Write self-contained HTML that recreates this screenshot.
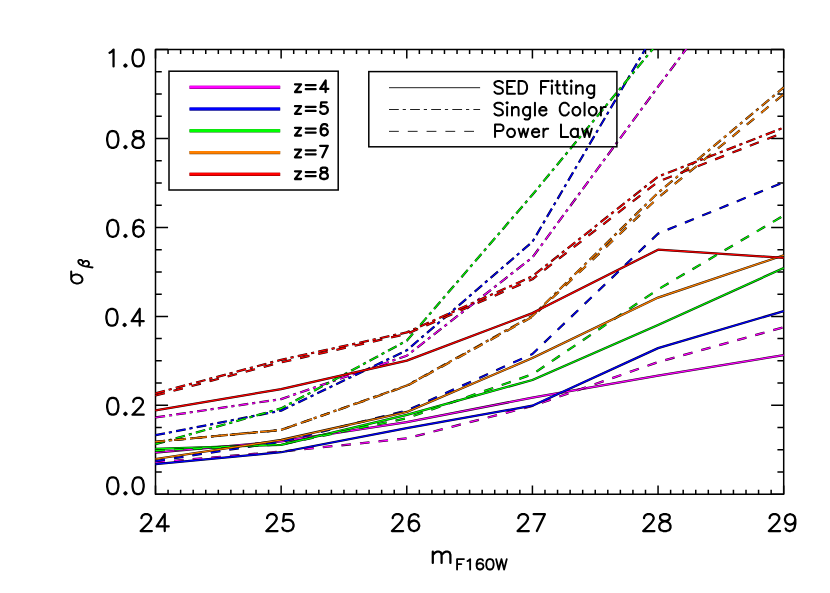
<!DOCTYPE html>
<html><head><meta charset="utf-8"><title>plot</title>
<style>html,body{margin:0;padding:0;background:#fff;font-family:"Liberation Sans",sans-serif}svg{display:block}</style></head>
<body>
<svg width="830" height="593" viewBox="0 0 830 593">
<rect width="830" height="593" fill="#fff"/>
<defs><clipPath id="pc"><rect x="154.90" y="48.90" width="629.40" height="446.00"/></clipPath></defs>
<g stroke="#000" stroke-width="1.50" fill="none" stroke-linejoin="round">
<rect x="155.50" y="49.50" width="628.20" height="444.80"/>
</g>
<path d="M155.50 494.30v-8.90M155.50 49.50v8.90M168.06 494.30v-4.45M168.06 49.50v4.45M180.63 494.30v-4.45M180.63 49.50v4.45M193.19 494.30v-4.45M193.19 49.50v4.45M205.76 494.30v-4.45M205.76 49.50v4.45M218.32 494.30v-4.45M218.32 49.50v4.45M230.88 494.30v-4.45M230.88 49.50v4.45M243.45 494.30v-4.45M243.45 49.50v4.45M256.01 494.30v-4.45M256.01 49.50v4.45M268.58 494.30v-4.45M268.58 49.50v4.45M281.14 494.30v-8.90M281.14 49.50v8.90M293.70 494.30v-4.45M293.70 49.50v4.45M306.27 494.30v-4.45M306.27 49.50v4.45M318.83 494.30v-4.45M318.83 49.50v4.45M331.40 494.30v-4.45M331.40 49.50v4.45M343.96 494.30v-4.45M343.96 49.50v4.45M356.52 494.30v-4.45M356.52 49.50v4.45M369.09 494.30v-4.45M369.09 49.50v4.45M381.65 494.30v-4.45M381.65 49.50v4.45M394.22 494.30v-4.45M394.22 49.50v4.45M406.78 494.30v-8.90M406.78 49.50v8.90M419.34 494.30v-4.45M419.34 49.50v4.45M431.91 494.30v-4.45M431.91 49.50v4.45M444.47 494.30v-4.45M444.47 49.50v4.45M457.04 494.30v-4.45M457.04 49.50v4.45M469.60 494.30v-4.45M469.60 49.50v4.45M482.16 494.30v-4.45M482.16 49.50v4.45M494.73 494.30v-4.45M494.73 49.50v4.45M507.29 494.30v-4.45M507.29 49.50v4.45M519.86 494.30v-4.45M519.86 49.50v4.45M532.42 494.30v-8.90M532.42 49.50v8.90M544.98 494.30v-4.45M544.98 49.50v4.45M557.55 494.30v-4.45M557.55 49.50v4.45M570.11 494.30v-4.45M570.11 49.50v4.45M582.68 494.30v-4.45M582.68 49.50v4.45M595.24 494.30v-4.45M595.24 49.50v4.45M607.80 494.30v-4.45M607.80 49.50v4.45M620.37 494.30v-4.45M620.37 49.50v4.45M632.93 494.30v-4.45M632.93 49.50v4.45M645.50 494.30v-4.45M645.50 49.50v4.45M658.06 494.30v-8.90M658.06 49.50v8.90M670.62 494.30v-4.45M670.62 49.50v4.45M683.19 494.30v-4.45M683.19 49.50v4.45M695.75 494.30v-4.45M695.75 49.50v4.45M708.32 494.30v-4.45M708.32 49.50v4.45M720.88 494.30v-4.45M720.88 49.50v4.45M733.44 494.30v-4.45M733.44 49.50v4.45M746.01 494.30v-4.45M746.01 49.50v4.45M758.57 494.30v-4.45M758.57 49.50v4.45M771.14 494.30v-4.45M771.14 49.50v4.45M783.70 494.30v-8.90M783.70 49.50v8.90M155.50 494.30h12.56M783.70 494.30h-12.56M155.50 472.06h6.28M783.70 472.06h-6.28M155.50 449.82h6.28M783.70 449.82h-6.28M155.50 427.58h6.28M783.70 427.58h-6.28M155.50 405.34h12.56M783.70 405.34h-12.56M155.50 383.10h6.28M783.70 383.10h-6.28M155.50 360.86h6.28M783.70 360.86h-6.28M155.50 338.62h6.28M783.70 338.62h-6.28M155.50 316.38h12.56M783.70 316.38h-12.56M155.50 294.14h6.28M783.70 294.14h-6.28M155.50 271.90h6.28M783.70 271.90h-6.28M155.50 249.66h6.28M783.70 249.66h-6.28M155.50 227.42h12.56M783.70 227.42h-12.56M155.50 205.18h6.28M783.70 205.18h-6.28M155.50 182.94h6.28M783.70 182.94h-6.28M155.50 160.70h6.28M783.70 160.70h-6.28M155.50 138.46h12.56M783.70 138.46h-12.56M155.50 116.22h6.28M783.70 116.22h-6.28M155.50 93.98h6.28M783.70 93.98h-6.28M155.50 71.74h6.28M783.70 71.74h-6.28M155.50 49.50h12.56M783.70 49.50h-12.56" stroke="#000" stroke-width="1.50" fill="none"/>
<g clip-path="url(#pc)" fill="none" stroke-linejoin="round">
<polyline points="155.50,452.51 281.14,441.30 406.78,422.06 532.42,397.65 658.06,375.56 783.70,355.20" stroke="#200020" stroke-width="2.25"/>
<polyline points="155.50,452.51 281.14,441.30 406.78,422.06 532.42,397.65 658.06,375.56 783.70,355.20" stroke="#ff00ff" stroke-width="1.20"/>
<polyline points="155.50,417.48 281.14,399.08 406.78,355.69 532.42,257.41 658.06,86.68 783.70,-81.43" stroke="#200020" stroke-width="2.25" stroke-dasharray="9.65 3.98 3.1 4.28"/>
<polyline points="155.50,417.48 281.14,399.08 406.78,355.69 532.42,257.41 658.06,86.68 783.70,-81.43" stroke="#ff00ff" stroke-width="1.20" stroke-dasharray="9.65 3.98 3.1 4.28"/>
<polyline points="155.50,462.37 281.14,451.57 406.78,438.42 532.42,405.97 658.06,362.09 783.70,327.29" stroke="#200020" stroke-width="2.25" stroke-dasharray="9.55 9.12"/>
<polyline points="155.50,462.37 281.14,451.57 406.78,438.42 532.42,405.97 658.06,362.09 783.70,327.29" stroke="#ff00ff" stroke-width="1.20" stroke-dasharray="9.55 9.12"/>
<polyline points="155.50,464.06 281.14,452.24 406.78,428.19 532.42,405.66 658.06,348.14 783.70,311.11" stroke="#000020" stroke-width="2.25"/>
<polyline points="155.50,464.06 281.14,452.24 406.78,428.19 532.42,405.66 658.06,348.14 783.70,311.11" stroke="#0000ff" stroke-width="1.20"/>
<polyline points="155.50,435.21 281.14,410.63 406.78,350.32 532.42,241.81 658.06,27.21 783.70,-185.00" stroke="#000020" stroke-width="2.25" stroke-dasharray="9.65 3.98 3.1 4.28"/>
<polyline points="155.50,435.21 281.14,410.63 406.78,350.32 532.42,241.81 658.06,27.21 783.70,-185.00" stroke="#0000ff" stroke-width="1.20" stroke-dasharray="9.65 3.98 3.1 4.28"/>
<polyline points="155.50,461.08 281.14,441.75 406.78,410.63 532.42,353.96 658.06,233.59 783.70,182.29" stroke="#000020" stroke-width="2.25" stroke-dasharray="9.55 9.12"/>
<polyline points="155.50,461.08 281.14,441.75 406.78,410.63 532.42,353.96 658.06,233.59 783.70,182.29" stroke="#0000ff" stroke-width="1.20" stroke-dasharray="9.55 9.12"/>
<polyline points="155.50,448.86 281.14,444.86 406.78,414.81 532.42,379.96 658.06,325.02 783.70,267.95" stroke="#002000" stroke-width="2.25"/>
<polyline points="155.50,448.86 281.14,444.86 406.78,414.81 532.42,379.96 658.06,325.02 783.70,267.95" stroke="#00ff00" stroke-width="1.20"/>
<polyline points="155.50,444.19 281.14,408.41 406.78,340.71 532.42,194.70 658.06,42.72 783.70,-114.32" stroke="#002000" stroke-width="2.25" stroke-dasharray="9.65 3.98 3.1 4.28"/>
<polyline points="155.50,444.19 281.14,408.41 406.78,340.71 532.42,194.70 658.06,42.72 783.70,-114.32" stroke="#00ff00" stroke-width="1.20" stroke-dasharray="9.65 3.98 3.1 4.28"/>
<polyline points="155.50,450.64 281.14,444.42 406.78,418.19 532.42,374.27 658.06,289.42 783.70,215.59" stroke="#002000" stroke-width="2.25" stroke-dasharray="9.55 9.12"/>
<polyline points="155.50,450.64 281.14,444.42 406.78,418.19 532.42,374.27 658.06,289.42 783.70,215.59" stroke="#00ff00" stroke-width="1.20" stroke-dasharray="9.55 9.12"/>
<polyline points="155.50,459.00 281.14,439.97 406.78,411.97 532.42,358.01 658.06,297.60 783.70,255.28" stroke="#201000" stroke-width="2.25"/>
<polyline points="155.50,459.00 281.14,439.97 406.78,411.97 532.42,358.01 658.06,297.60 783.70,255.28" stroke="#ff8000" stroke-width="1.20"/>
<polyline points="155.50,441.75 281.14,429.93 406.78,385.52 532.42,315.96 658.06,192.70 783.70,87.48" stroke="#201000" stroke-width="2.25" stroke-dasharray="9.65 3.98 3.1 4.28"/>
<polyline points="155.50,441.75 281.14,429.93 406.78,385.52 532.42,315.96 658.06,192.70 783.70,87.48" stroke="#ff8000" stroke-width="1.20" stroke-dasharray="9.65 3.98 3.1 4.28"/>
<polyline points="155.50,441.75 281.14,429.93 406.78,385.96 532.42,316.84 658.06,197.72 783.70,94.24" stroke="#201000" stroke-width="2.25" stroke-dasharray="9.55 9.12"/>
<polyline points="155.50,441.75 281.14,429.93 406.78,385.96 532.42,316.84 658.06,197.72 783.70,94.24" stroke="#ff8000" stroke-width="1.20" stroke-dasharray="9.55 9.12"/>
<polyline points="155.50,410.41 281.14,389.08 406.78,360.58 532.42,313.11 658.06,249.68 783.70,257.81" stroke="#200000" stroke-width="2.25"/>
<polyline points="155.50,410.41 281.14,389.08 406.78,360.58 532.42,313.11 658.06,249.68 783.70,257.81" stroke="#ff0000" stroke-width="1.20"/>
<polyline points="155.50,393.30 281.14,359.78 406.78,332.40 532.42,276.31 658.06,176.60 783.70,127.67" stroke="#200000" stroke-width="2.25" stroke-dasharray="9.65 3.98 3.1 4.28"/>
<polyline points="155.50,393.30 281.14,359.78 406.78,332.40 532.42,276.31 658.06,176.60 783.70,127.67" stroke="#ff0000" stroke-width="1.20" stroke-dasharray="9.65 3.98 3.1 4.28"/>
<polyline points="155.50,395.52 281.14,362.32 406.78,333.91 532.42,279.24 658.06,181.72 783.70,132.51" stroke="#200000" stroke-width="2.25" stroke-dasharray="9.55 9.12"/>
<polyline points="155.50,395.52 281.14,362.32 406.78,333.91 532.42,279.24 658.06,181.72 783.70,132.51" stroke="#ff0000" stroke-width="1.20" stroke-dasharray="9.55 9.12"/>
</g>
<path d="M141.47 518.20L141.47 517.40L142.27 515.80L143.07 515.00L144.67 514.20L147.87 514.20L149.47 515.00L150.27 515.80L151.07 517.40L151.07 519.00L150.27 520.60L148.67 523.00L140.67 531.00L151.87 531.00M164.73 514.20L156.73 526.44L168.73 526.44M164.73 514.20L164.73 531.00M267.11 518.20L267.11 517.40L267.91 515.80L268.71 515.00L270.31 514.20L273.51 514.20L275.11 515.00L275.91 515.80L276.71 517.40L276.71 519.00L275.91 520.60L274.31 523.00L266.31 531.00L277.51 531.00M291.97 514.20L283.97 514.20L283.17 521.40L283.97 520.60L286.37 519.80L288.77 519.80L291.17 520.60L292.77 522.20L293.57 524.60L293.57 526.20L292.77 528.60L291.17 530.20L288.77 531.00L286.37 531.00L283.97 530.20L283.17 529.40L282.37 527.80M392.75 518.20L392.75 517.40L393.55 515.80L394.35 515.00L395.95 514.20L399.15 514.20L400.75 515.00L401.55 515.80L402.35 517.40L402.35 519.00L401.55 520.60L399.95 523.00L391.95 531.00L403.15 531.00M418.41 516.60L417.61 515.00L415.21 514.20L413.61 514.20L411.21 515.00L409.61 517.40L408.81 521.40L408.81 525.40L409.61 528.60L411.21 530.20L413.61 531.00L414.41 531.00L416.81 530.20L418.41 528.60L419.21 526.20L419.21 525.40L418.41 523.00L416.81 521.40L414.41 520.60L413.61 520.60L411.21 521.40L409.61 523.00L408.81 525.40M518.39 518.20L518.39 517.40L519.19 515.80L519.99 515.00L521.59 514.20L524.79 514.20L526.39 515.00L527.19 515.80L527.99 517.40L527.99 519.00L527.19 520.60L525.59 523.00L517.59 531.00L528.79 531.00M544.85 514.20L536.85 531.00M533.65 514.20L544.85 514.20M644.03 518.20L644.03 517.40L644.83 515.80L645.63 515.00L647.23 514.20L650.43 514.20L652.03 515.00L652.83 515.80L653.63 517.40L653.63 519.00L652.83 520.60L651.23 523.00L643.23 531.00L654.43 531.00M663.29 514.20L660.89 515.00L660.09 516.60L660.09 518.20L660.89 519.80L662.49 520.60L665.69 521.40L668.09 522.20L669.69 523.80L670.49 525.40L670.49 527.80L669.69 529.40L668.89 530.20L666.49 531.00L663.29 531.00L660.89 530.20L660.09 529.40L659.29 527.80L659.29 525.40L660.09 523.80L661.69 522.20L664.09 521.40L667.29 520.60L668.89 519.80L669.69 518.20L669.69 516.60L668.89 515.00L666.49 514.20L663.29 514.20M769.67 518.20L769.67 517.40L770.47 515.80L771.27 515.00L772.87 514.20L776.07 514.20L777.67 515.00L778.47 515.80L779.27 517.40L779.27 519.00L778.47 520.60L776.87 523.00L768.87 531.00L780.07 531.00M795.33 519.80L794.53 522.20L792.93 523.80L790.53 524.60L789.73 524.60L787.33 523.80L785.73 522.20L784.93 519.80L784.93 519.00L785.73 516.60L787.33 515.00L789.73 514.20L790.53 514.20L792.93 515.00L794.53 516.60L795.33 519.80L795.33 523.80L794.53 527.80L792.93 530.20L790.53 531.00L788.93 531.00L786.53 530.20L785.73 528.60M111.95 477.30L109.55 478.10L107.95 480.50L107.15 484.50L107.15 486.90L107.95 490.90L109.55 493.30L111.95 494.10L113.55 494.10L115.95 493.30L117.55 490.90L118.35 486.90L118.35 484.50L117.55 480.50L115.95 478.10L113.55 477.30L111.95 477.30M125.42 492.22L124.34 493.30L125.42 494.38L126.50 493.30L125.42 492.22M137.30 477.30L134.90 478.10L133.30 480.50L132.50 484.50L132.50 486.90L133.30 490.90L134.90 493.30L137.30 494.10L138.90 494.10L141.30 493.30L142.90 490.90L143.70 486.90L143.70 484.50L142.90 480.50L141.30 478.10L138.90 477.30L137.30 477.30M111.95 397.89L109.55 398.69L107.95 401.09L107.15 405.09L107.15 407.49L107.95 411.49L109.55 413.89L111.95 414.69L113.55 414.69L115.95 413.89L117.55 411.49L118.35 407.49L118.35 405.09L117.55 401.09L115.95 398.69L113.55 397.89L111.95 397.89M125.42 412.81L124.34 413.89L125.42 414.97L126.50 413.89L125.42 412.81M133.30 401.89L133.30 401.09L134.10 399.49L134.90 398.69L136.50 397.89L139.70 397.89L141.30 398.69L142.10 399.49L142.90 401.09L142.90 402.69L142.10 404.29L140.50 406.69L132.50 414.69L143.70 414.69M111.15 308.93L108.75 309.73L107.15 312.13L106.35 316.13L106.35 318.53L107.15 322.53L108.75 324.93L111.15 325.73L112.75 325.73L115.15 324.93L116.75 322.53L117.55 318.53L117.55 316.13L116.75 312.13L115.15 309.73L112.75 308.93L111.15 308.93M124.62 323.85L123.54 324.93L124.62 326.01L125.70 324.93L124.62 323.85M139.70 308.93L131.70 321.17L143.70 321.17M139.70 308.93L139.70 325.73M111.95 219.97L109.55 220.77L107.95 223.17L107.15 227.17L107.15 229.57L107.95 233.57L109.55 235.97L111.95 236.77L113.55 236.77L115.95 235.97L117.55 233.57L118.35 229.57L118.35 227.17L117.55 223.17L115.95 220.77L113.55 219.97L111.95 219.97M125.42 234.89L124.34 235.97L125.42 237.05L126.50 235.97L125.42 234.89M142.90 222.37L142.10 220.77L139.70 219.97L138.10 219.97L135.70 220.77L134.10 223.17L133.30 227.17L133.30 231.17L134.10 234.37L135.70 235.97L138.10 236.77L138.90 236.77L141.30 235.97L142.90 234.37L143.70 231.97L143.70 231.17L142.90 228.77L141.30 227.17L138.90 226.37L138.10 226.37L135.70 227.17L134.10 228.77L133.30 231.17M111.95 131.01L109.55 131.81L107.95 134.21L107.15 138.21L107.15 140.61L107.95 144.61L109.55 147.01L111.95 147.81L113.55 147.81L115.95 147.01L117.55 144.61L118.35 140.61L118.35 138.21L117.55 134.21L115.95 131.81L113.55 131.01L111.95 131.01M125.42 145.93L124.34 147.01L125.42 148.09L126.50 147.01L125.42 145.93M136.50 131.01L134.10 131.81L133.30 133.41L133.30 135.01L134.10 136.61L135.70 137.41L138.90 138.21L141.30 139.01L142.90 140.61L143.70 142.21L143.70 144.61L142.90 146.21L142.10 147.01L139.70 147.81L136.50 147.81L134.10 147.01L133.30 146.21L132.50 144.61L132.50 142.21L133.30 140.61L134.90 139.01L137.30 138.21L140.50 137.41L142.10 136.61L142.90 135.01L142.90 133.41L142.10 131.81L139.70 131.01L136.50 131.01M109.55 52.80L111.15 52.00L113.55 49.60L113.55 66.40M125.42 64.52L124.34 65.60L125.42 66.68L126.50 65.60L125.42 64.52M137.30 49.60L134.90 50.40L133.30 52.80L132.50 56.80L132.50 59.20L133.30 63.20L134.90 65.60L137.30 66.40L138.90 66.40L141.30 65.60L142.90 63.20L143.70 59.20L143.70 56.80L142.90 52.80L141.30 50.40L138.90 49.60L137.30 49.60M432.80 551.70L432.80 562.90M432.80 554.90L435.20 552.50L436.80 551.70L439.20 551.70L440.80 552.50L441.60 554.90L441.60 562.90M441.60 554.90L444.00 552.50L445.60 551.70L448.00 551.70L449.60 552.50L450.40 554.90L450.40 562.90" stroke="#000" stroke-width="2.25" fill="none" stroke-linecap="round" stroke-linejoin="round"/>
<path d="M457.07 559.11L457.07 569.50M457.07 559.11L463.96 559.11M457.07 564.05L461.31 564.05M467.49 561.09L468.55 560.59L470.14 559.11L470.14 569.50M482.96 560.59L482.43 559.60L480.84 559.11L479.78 559.11L478.19 559.60L477.13 561.09L476.60 563.56L476.60 566.03L477.13 568.01L478.19 569.00L479.78 569.50L480.31 569.50L481.90 569.00L482.96 568.01L483.49 566.53L483.49 566.03L482.96 564.55L481.90 563.56L480.31 563.07L479.78 563.07L478.19 563.56L477.13 564.55L476.60 566.03M489.41 559.11L487.82 559.60L486.76 561.09L486.23 563.56L486.23 565.04L486.76 567.52L487.82 569.00L489.41 569.50L490.47 569.50L492.06 569.00L493.12 567.52L493.65 565.04L493.65 563.56L493.12 561.09L492.06 559.60L490.47 559.11L489.41 559.11M496.15 559.11L498.80 569.50M501.45 559.11L498.80 569.50M501.45 559.11L504.10 569.50M506.75 559.11L504.10 569.50" stroke="#000" stroke-width="1.85" fill="none" stroke-linecap="round" stroke-linejoin="round"/>
<g transform="translate(82.4 286) rotate(-90)" stroke="#000" fill="none" stroke-linecap="round" stroke-linejoin="round"><path d="M14.60 -11.20L6.60 -11.20L5.00 -10.40L3.40 -8.80L2.60 -6.40L2.60 -4.00L3.40 -1.60L4.20 -0.80L5.80 0.00L7.40 0.00L9.00 -0.80L10.60 -2.40L11.40 -4.80L11.40 -7.20L10.60 -9.60L9.80 -10.40L8.20 -11.20" stroke-width="2"/><path d="M24.00 -4.07L22.90 -3.56L21.80 -2.54L20.70 -0.51L20.15 1.01L19.60 3.04L19.05 6.09L18.50 10.16M24.00 -4.07L25.10 -4.07L26.20 -3.05L26.20 -1.53L25.65 -0.51L25.10 -0.00L24.00 0.50L22.35 0.50M22.35 0.50L23.45 1.01L24.55 2.03L25.10 3.04L25.10 4.57L24.55 5.58L24.00 6.09L22.90 6.60L21.80 6.60L20.70 6.09L20.15 5.58L19.60 4.06" stroke-width="1.85"/></g>
<rect x="169" y="71.2" width="169.2" height="118.8" fill="none" stroke="#000" stroke-width="1.5"/>
<path d="M189.5 87.35H280.2" stroke="#700070" stroke-width="3.3"/>
<path d="M189.6 87.10H280.1" stroke="#ff00ff" stroke-width="2.6"/>
<path d="M189.5 109.15H280.2" stroke="#303070" stroke-width="3.3"/>
<path d="M189.6 108.90H280.1" stroke="#0000ff" stroke-width="2.6"/>
<path d="M189.5 130.85H280.2" stroke="#007000" stroke-width="3.3"/>
<path d="M189.6 130.60H280.1" stroke="#00ff00" stroke-width="2.6"/>
<path d="M189.5 152.65H280.2" stroke="#703800" stroke-width="3.3"/>
<path d="M189.6 152.40H280.1" stroke="#ff8000" stroke-width="2.6"/>
<path d="M189.5 174.35H280.2" stroke="#700000" stroke-width="3.3"/>
<path d="M189.6 174.10H280.1" stroke="#ff0000" stroke-width="2.6"/>
<rect x="368.8" y="71.6" width="248.1" height="75.2" fill="none" stroke="#000" stroke-width="1.5"/>
<path d="M389 87.70H480.1" stroke="#222" stroke-width="1"/>
<path d="M389 109.50H480.1" stroke="#222" stroke-width="1" stroke-dasharray="9.8 3.9 3.2 4.2"/>
<path d="M389 131.35H480.1" stroke="#222" stroke-width="1" stroke-dasharray="9.8 9.0"/>
<path d="M502.85 82.90L501.65 81.70L499.85 81.10L497.45 81.10L495.65 81.70L494.45 82.90L494.45 84.10L495.05 85.30L495.65 85.90L496.85 86.50L500.45 87.70L501.65 88.30L502.25 88.90L502.85 90.10L502.85 91.90L501.65 93.10L499.85 93.70L497.45 93.70L495.65 93.10L494.45 91.90M507.15 81.10L507.15 93.70M507.15 81.10L514.95 81.10M507.15 87.10L511.95 87.10M507.15 93.70L514.95 93.70M518.65 81.10L518.65 93.70M518.65 81.10L522.85 81.10L524.65 81.70L525.85 82.90L526.45 84.10L527.05 85.90L527.05 88.90L526.45 90.70L525.85 91.90L524.65 93.10L522.85 93.70L518.65 93.70M541.03 81.10L541.03 93.70M541.03 81.10L548.83 81.10M541.03 87.10L545.83 87.10M551.29 81.10L551.89 81.70L552.49 81.10L551.89 80.50L551.29 81.10M551.89 85.30L551.89 93.70M557.34 81.10L557.34 91.30L557.94 93.10L559.14 93.70L560.34 93.70M555.54 85.30L559.74 85.30M564.60 81.10L564.60 91.30L565.20 93.10L566.40 93.70L567.60 93.70M562.80 85.30L567.00 85.30M570.65 81.10L571.25 81.70L571.85 81.10L571.25 80.50L570.65 81.10M571.25 85.30L571.25 93.70M576.12 85.30L576.12 93.70M576.12 87.70L577.92 85.90L579.12 85.30L580.92 85.30L582.12 85.90L582.72 87.70L582.72 93.70M594.21 85.30L594.21 94.90L593.61 96.70L593.01 97.30L591.81 97.90L590.01 97.90L588.81 97.30M594.21 87.10L593.01 85.90L591.81 85.30L590.01 85.30L588.81 85.90L587.61 87.10L587.01 88.90L587.01 90.10L587.61 91.90L588.81 93.10L590.01 93.70L591.81 93.70L593.01 93.10L594.21 91.90M502.85 104.60L501.65 103.40L499.85 102.80L497.45 102.80L495.65 103.40L494.45 104.60L494.45 105.80L495.05 107.00L495.65 107.60L496.85 108.20L500.45 109.40L501.65 110.00L502.25 110.60L502.85 111.80L502.85 113.60L501.65 114.80L499.85 115.40L497.45 115.40L495.65 114.80L494.45 113.60M506.52 102.80L507.12 103.40L507.72 102.80L507.12 102.20L506.52 102.80M507.12 107.00L507.12 115.40M511.99 107.00L511.99 115.40M511.99 109.40L513.79 107.60L514.99 107.00L516.79 107.00L517.99 107.60L518.59 109.40L518.59 115.40M530.08 107.00L530.08 116.60L529.48 118.40L528.88 119.00L527.68 119.60L525.88 119.60L524.68 119.00M530.08 108.80L528.88 107.60L527.68 107.00L525.88 107.00L524.68 107.60L523.48 108.80L522.88 110.60L522.88 111.80L523.48 113.60L524.68 114.80L525.88 115.40L527.68 115.40L528.88 114.80L530.08 113.60M534.95 102.80L534.95 115.40M539.22 110.60L546.42 110.60L546.42 109.40L545.82 108.20L545.22 107.60L544.02 107.00L542.22 107.00L541.02 107.60L539.82 108.80L539.22 110.60L539.22 111.80L539.82 113.60L541.02 114.80L542.22 115.40L544.02 115.40L545.22 114.80L546.42 113.60M568.79 105.80L568.19 104.60L566.99 103.40L565.79 102.80L563.39 102.80L562.19 103.40L560.99 104.60L560.39 105.80L559.79 107.60L559.79 110.60L560.39 112.40L560.99 113.60L562.19 114.80L563.39 115.40L565.79 115.40L566.99 114.80L568.19 113.60L568.79 112.40M575.49 107.00L574.29 107.60L573.09 108.80L572.49 110.60L572.49 111.80L573.09 113.60L574.29 114.80L575.49 115.40L577.29 115.40L578.49 114.80L579.69 113.60L580.29 111.80L580.29 110.60L579.69 108.80L578.49 107.60L577.29 107.00L575.49 107.00M584.56 102.80L584.56 115.40M591.83 107.00L590.63 107.60L589.43 108.80L588.83 110.60L588.83 111.80L589.43 113.60L590.63 114.80L591.83 115.40L593.63 115.40L594.83 114.80L596.03 113.60L596.63 111.80L596.63 110.60L596.03 108.80L594.83 107.60L593.63 107.00L591.83 107.00M600.91 107.00L600.91 115.40M600.91 110.60L601.51 108.80L602.71 107.60L603.91 107.00L605.71 107.00M495.05 124.50L495.05 137.10M495.05 124.50L500.45 124.50L502.25 125.10L502.85 125.70L503.45 126.90L503.45 128.70L502.85 129.90L502.25 130.50L500.45 131.10L495.05 131.10M510.15 128.70L508.95 129.30L507.75 130.50L507.15 132.30L507.15 133.50L507.75 135.30L508.95 136.50L510.15 137.10L511.95 137.10L513.15 136.50L514.35 135.30L514.95 133.50L514.95 132.30L514.35 130.50L513.15 129.30L511.95 128.70L510.15 128.70M518.65 128.70L521.05 137.10M523.45 128.70L521.05 137.10M523.45 128.70L525.85 137.10M528.25 128.70L525.85 137.10M531.95 132.30L539.15 132.30L539.15 131.10L538.55 129.90L537.95 129.30L536.75 128.70L534.95 128.70L533.75 129.30L532.55 130.50L531.95 132.30L531.95 133.50L532.55 135.30L533.75 136.50L534.95 137.10L536.75 137.10L537.95 136.50L539.15 135.30M543.43 128.70L543.43 137.10M543.43 132.30L544.03 130.50L545.23 129.30L546.43 128.70L548.23 128.70M560.99 124.50L560.99 137.10M560.99 137.10L568.19 137.10M577.88 128.70L577.88 137.10M577.88 130.50L576.68 129.30L575.48 128.70L573.68 128.70L572.48 129.30L571.28 130.50L570.68 132.30L570.68 133.50L571.28 135.30L572.48 136.50L573.68 137.10L575.48 137.10L576.68 136.50L577.88 135.30M582.18 128.70L584.58 137.10M586.98 128.70L584.58 137.10M586.98 128.70L589.38 137.10M591.78 128.70L589.38 137.10" stroke="#000" stroke-width="2" fill="none" stroke-linecap="round" stroke-linejoin="round"/>
<path d="M301.01 84.37L295.02 92.00M295.02 84.37L301.01 84.37M295.02 92.00L301.01 92.00M305.80 85.05L315.60 85.05M305.80 89.14L315.60 89.14M325.61 80.56L320.16 88.89L328.33 88.89M325.61 80.56L325.61 92.00M301.01 106.17L295.02 113.80M295.02 106.17L301.01 106.17M295.02 113.80L301.01 113.80M305.80 106.85L315.60 106.85M305.80 110.94L315.60 110.94M326.70 102.35L321.25 102.35L320.70 107.26L321.25 106.72L322.88 106.17L324.52 106.17L326.15 106.72L327.24 107.80L327.79 109.44L327.79 110.53L327.24 112.16L326.15 113.25L324.52 113.80L322.88 113.80L321.25 113.25L320.70 112.71L320.16 111.62M301.01 127.87L295.02 135.50M295.02 127.87L301.01 127.87M295.02 135.50L301.01 135.50M305.80 128.55L315.60 128.55M305.80 132.64L315.60 132.64M327.24 125.69L326.70 124.60L325.06 124.06L323.97 124.06L322.34 124.60L321.25 126.23L320.70 128.96L320.70 131.69L321.25 133.87L322.34 134.96L323.97 135.50L324.52 135.50L326.15 134.96L327.24 133.87L327.79 132.23L327.79 131.69L327.24 130.05L326.15 128.96L324.52 128.41L323.97 128.41L322.34 128.96L321.25 130.05L320.70 131.69M301.01 149.67L295.02 157.30M295.02 149.67L301.01 149.67M295.02 157.30L301.01 157.30M305.80 150.35L315.60 150.35M305.80 154.44L315.60 154.44M327.79 145.86L322.34 157.30M320.16 145.86L327.79 145.86M301.01 171.37L295.02 179.00M295.02 171.37L301.01 171.37M295.02 179.00L301.01 179.00M305.80 172.05L315.60 172.05M305.80 176.14L315.60 176.14M322.88 167.56L321.25 168.10L320.70 169.19L320.70 170.28L321.25 171.37L322.34 171.91L324.52 172.46L326.15 173.00L327.24 174.09L327.79 175.19L327.79 176.82L327.24 177.91L326.70 178.46L325.06 179.00L322.88 179.00L321.25 178.46L320.70 177.91L320.16 176.82L320.16 175.19L320.70 174.09L321.79 173.00L323.43 172.46L325.61 171.91L326.70 171.37L327.24 170.28L327.24 169.19L326.70 168.10L325.06 167.56L322.88 167.56" stroke="#000" stroke-width="2.3" fill="none" stroke-linecap="round" stroke-linejoin="round"/>
</svg>
</body></html>
